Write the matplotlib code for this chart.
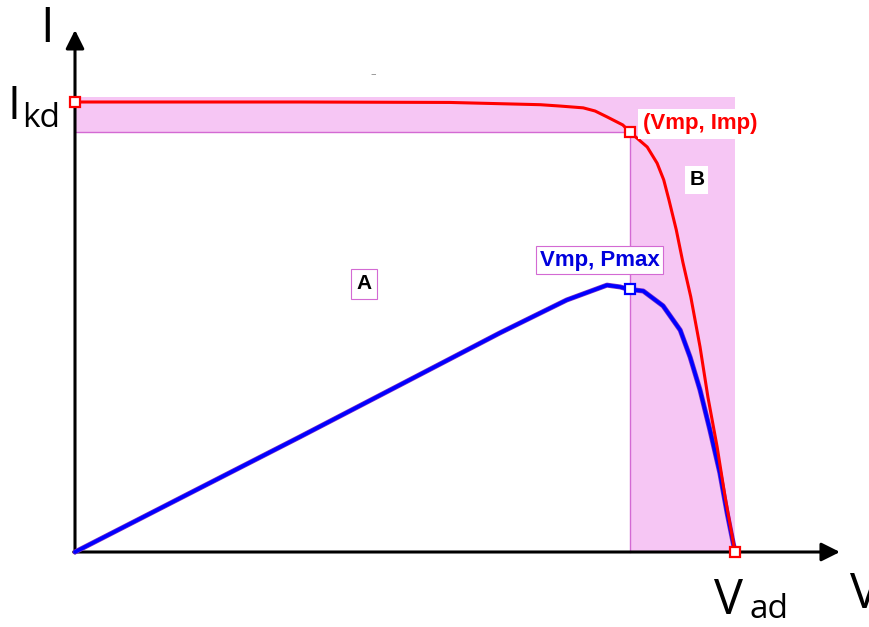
import matplotlib
matplotlib.use("Agg")
import matplotlib.pyplot as plt
from matplotlib.patches import Polygon

# Normalised I-V and P-V characteristics of a PV cell (V / Vad, I / Ikd)
iv_voltage = [0.0, 0.341, 0.568, 0.705, 0.735, 0.770, 0.788, 0.806, 0.818,
              0.830, 0.841, 0.867, 0.882, 0.892, 0.900, 0.911, 0.921, 0.933,
              0.947, 0.959, 0.973, 0.985, 1.0]
iv_current = [1.0, 1.0, 0.999, 0.994, 0.991, 0.987, 0.980, 0.967, 0.958,
              0.949, 0.933, 0.900, 0.864, 0.827, 0.782, 0.716, 0.644, 0.567,
              0.456, 0.344, 0.233, 0.122, 0.0]

pv_voltage = [0.0, 0.189, 0.341, 0.492, 0.644, 0.745, 0.806, 0.826, 0.838,
              0.861, 0.891, 0.917, 0.932, 0.947, 0.962, 0.977, 0.988, 1.0]
pv_power = [0.0, 0.142, 0.256, 0.371, 0.487, 0.560, 0.593, 0.589, 0.584,
            0.580, 0.547, 0.493, 0.433, 0.360, 0.271, 0.176, 0.087, 0.0]

v_mp, i_mp = 0.841, 0.933
p_max = 0.584
v_oc, i_sc = 1.0, 1.0
band_top = 1.011

W, H = 870, 627
fig = plt.figure(figsize=(W / 100, H / 100), dpi=100)
ax = fig.add_axes([0, 0, 1, 1])
# axes limits chosen so the origin sits at (75, 552) px
x0, y0, sx, sy = 75, 552, 660, 450
ax.set_xlim(-x0 / sx, (W - x0) / sx)
ax.set_ylim(-(H - y0) / sy, y0 / sy)
ax.axis("off")

pink = "#f6c6f4"
edge = "#d36ad3"

# shaded region B (area between the max-power rectangle and Isc/Voc rectangle)
poly = Polygon([(0, band_top), (v_oc, band_top), (v_oc, 0), (v_mp, 0),
                (v_mp, i_mp), (0, i_mp)], closed=True,
               facecolor=pink, edgecolor="none", zorder=1)
ax.add_patch(poly)
ax.plot([0, v_mp], [i_mp, i_mp], color=edge, lw=1.0, zorder=2)
ax.plot([v_mp, v_mp], [0, i_mp], color=edge, lw=1.0, zorder=2)

# axes with arrows
ax.annotate("", xy=(0, 1.16), xytext=(0, -0.002),
            arrowprops=dict(arrowstyle="-|>", lw=2.2, color="black",
                            mutation_scale=28, shrinkA=0, shrinkB=0), zorder=3)
ax.annotate("", xy=(1.159, 0), xytext=(-0.002, 0),
            arrowprops=dict(arrowstyle="-|>", lw=2.2, color="black",
                            mutation_scale=28, shrinkA=0, shrinkB=0), zorder=3)

# curves
ax.plot(pv_voltage, pv_power, color="#7a2fc8", lw=3.6, zorder=4,
        solid_joinstyle="round", solid_capstyle="round")
ax.plot(pv_voltage, pv_power, color="#0000ff", lw=2.6, zorder=5,
        solid_joinstyle="round", solid_capstyle="round")
ax.plot(iv_voltage, iv_current, color="#ff0000", lw=2.2, zorder=6,
        solid_joinstyle="round")

# characteristic points
mk = dict(marker="s", markersize=7, markerfacecolor="white",
          markeredgewidth=1.6, linestyle="none", zorder=7)
ax.plot([0, v_mp, v_oc], [i_sc, i_mp, 0], markeredgecolor="#ff0000", **mk)
ax.plot([v_mp], [p_max], markeredgecolor="#0000ff", **mk)

# point labels
ax.annotate("(Vmp, Imp)", xy=(v_mp, i_mp), xytext=(9, 6),
            textcoords="offset points", ha="left", va="center",
            fontsize=16, fontweight="bold", color="#ff0000",
            family="Liberation Sans",
            bbox=dict(boxstyle="square,pad=0.2", fc="white", ec="none"),
            zorder=8)
ax.annotate("Vmp, Pmax", xy=(v_mp, p_max), xytext=(-22, 21),
            textcoords="offset points", ha="center", va="center",
            fontsize=16, fontweight="bold", color="#0000dd",
            family="Liberation Sans",
            bbox=dict(boxstyle="square,pad=0.15", fc="white", ec=edge, lw=0.8),
            zorder=8)

# region labels
ax.text(0.438, 0.596, "A", ha="center", va="center", fontsize=15,
        fontweight="bold", family="Liberation Sans", color="black",
        bbox=dict(boxstyle="square,pad=0.25", fc="white", ec=edge, lw=0.8),
        zorder=8)
ax.text(0.942, 0.827, "B", ha="center", va="center", fontsize=15,
        fontweight="bold", family="Liberation Sans", color="black",
        bbox=dict(boxstyle="square,pad=0.2", fc="white", ec="none"), zorder=8)
ax.text(0.452, 1.063, "–", ha="center", va="center", fontsize=8,
        color="#888888", zorder=8)

# axis labels
lab = dict(family="Open Sans", color="black", va="baseline", ha="left")
fig.text(40 / W, 1 - 42 / H, "I", fontsize=35, **lab)
fig.text(8 / W, 1 - 119 / H, "I", fontsize=33, **lab)
fig.text(22 / W, 1 - 127 / H, "kd", fontsize=24, **lab)
fig.text(714 / W, 1 - 614 / H, "V", fontsize=35, **lab)
fig.text(750 / W, 1 - 618 / H, "ad", fontsize=24, **lab)
fig.text(850 / W, 1 - 608 / H, "V", fontsize=35, **lab)

fig.savefig("out.png", dpi=100, facecolor="white")
